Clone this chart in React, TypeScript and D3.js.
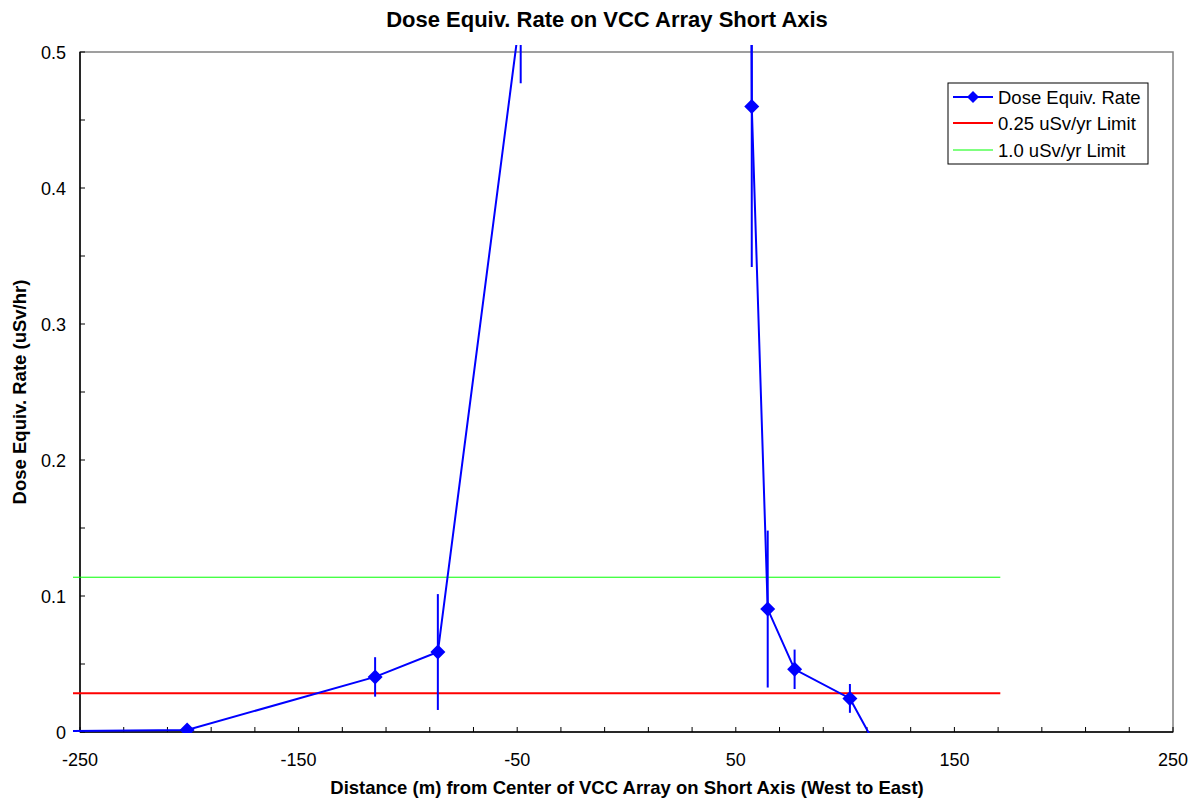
import React from 'react';
import * as d3 from 'd3';

// measured points (distance m, dose uSv/hr, error)
const distances = [-300, -201, -115, -86.3, -48.4, -30, 0, 30, 55, 57.3, 64.6, 76.9, 102.2, 115];
const doseRates = [0.0, 0.0015, 0.0405, 0.0588, 0.53, 1.8, 4.5, 3.2, 1.5, 0.46, 0.0904, 0.0461, 0.0247, -0.013];
const doseErrors = [0.0, 0.001, 0.0145, 0.0426, 0.053, 0.3, 0.6, 0.5, 0.3, 0.118, 0.0577, 0.0145, 0.0106, 0.01];

const limitX = [-300, 171];
const limit025 = 0.0285; // 0.25 uSv/yr
const limit100 = 0.1138; // 1.0 uSv/yr

const xTickLabels = [-250, -150, -50, 50, 150, 250];
const yTickLabels = [0, 0.1, 0.2, 0.3, 0.4, 0.5];

const W = 1190;
const H = 799;
const marginLeft = 80;
const marginRight = 17;
const marginTop = 52;
const marginBottom = 67;

const font = 'Arial, "Liberation Sans", sans-serif';

const App = () => {
  const x = d3.scaleLinear().domain([-250, 250]).range([marginLeft, W - marginRight]);
  const y = d3.scaleLinear().domain([0, 0.5]).range([H - marginBottom, marginTop]);

  const points = distances.map((d, i) => ({ x: d, y: doseRates[i], e: doseErrors[i] }));
  const line = d3.line<{ x: number; y: number }>().x(d => x(d.x)).y(d => y(d.y));

  const minorX = d3.range(-250, 251, 20);
  const minorY = d3.range(0, 0.5001, 0.05);

  const diamond = (cx: number, cy: number, r: number) =>
    `M${cx},${cy - r}L${cx + r},${cy}L${cx},${cy + r}L${cx - r},${cy}Z`;

  const [x0, x1] = x.range();
  const [y0, y1] = y.range();

  return (
    <svg width={W} height={H} style={{ position: 'absolute', left: 0, top: 0, background: '#fff' }}>
      <defs>
        <clipPath id="plotClip">
          <rect x={x0 - 7} y={y1 - 7} width={x1 - x0 + 14} height={y0 - y1 + 8} />
        </clipPath>
      </defs>

      <text x={607} y={27} textAnchor="middle" fontFamily={font} fontWeight="bold" fontSize={22}>
        Dose Equiv. Rate on VCC Array Short Axis
      </text>

      {/* plot frame */}
      <rect x={x0} y={y1} width={x1 - x0} height={y0 - y1} fill="none" stroke="#808080" strokeWidth={1.5} />
      <line x1={x0} x2={x0} y1={y1} y2={y0} stroke="#000" strokeWidth={1.5} />
      <line x1={x0} x2={x1} y1={y0} y2={y0} stroke="#000" strokeWidth={1.5} />

      {minorX.map(v => (
        <line key={'xt' + v} x1={x(v)} x2={x(v)} y1={y0} y2={y0 - 5} stroke="#000" />
      ))}
      {minorY.map(v => (
        <line key={'yt' + v} x1={x0} x2={x0 + 5} y1={y(v)} y2={y(v)} stroke="#000" />
      ))}

      {xTickLabels.map(v => (
        <text key={'xl' + v} x={x(v)} y={y0 + 34} textAnchor="middle" fontFamily={font} fontSize={18}>
          {v}
        </text>
      ))}
      {yTickLabels.map(v => (
        <text key={'yl' + v} x={x0 - 14} y={y(v) + 6.5} textAnchor="end" fontFamily={font} fontSize={18}>
          {v}
        </text>
      ))}

      <text x={627} y={794} textAnchor="middle" fontFamily={font} fontWeight="bold" fontSize={18.5}>
        Distance (m) from Center of VCC Array on Short Axis (West to East)
      </text>
      <text
        transform={`translate(26,${(y0 + y1) / 2}) rotate(-90)`}
        textAnchor="middle"
        fontFamily={font}
        fontWeight="bold"
        fontSize={18.5}
      >
        Dose Equiv. Rate (uSv/hr)
      </text>

      <g clipPath="url(#plotClip)">
        <line x1={x(limitX[0])} x2={x(limitX[1])} y1={y(limit100)} y2={y(limit100)} stroke="#00ff00" strokeWidth={1} />
        <line x1={x(limitX[0])} x2={x(limitX[1])} y1={y(limit025)} y2={y(limit025)} stroke="#ff0000" strokeWidth={2} />
        {points.map((p, i) => (
          <line
            key={'eb' + i}
            x1={x(p.x)}
            x2={x(p.x)}
            y1={y(p.y - p.e)}
            y2={y(p.y + p.e)}
            stroke="#0000ff"
            strokeWidth={2}
          />
        ))}
        <path d={line(points) ?? ''} fill="none" stroke="#0000ff" strokeWidth={2} />
        {points.map((p, i) => (
          <path key={'mk' + i} d={diamond(x(p.x), y(p.y), 7.5)} fill="#0000ff" />
        ))}
      </g>

      {/* legend */}
      <g>
        <rect x={948} y={83} width={200} height={81} fill="#fff" stroke="#000" strokeWidth={1} />
        <line x1={953} x2={993} y1={97} y2={97} stroke="#0000ff" strokeWidth={2} />
        <path d={diamond(973, 97, 6)} fill="#0000ff" />
        <text x={998} y={103.5} fontFamily={font} fontSize={18.5}>Dose Equiv. Rate</text>
        <line x1={953} x2={993} y1={123} y2={123} stroke="#ff0000" strokeWidth={2} />
        <text x={998} y={130} fontFamily={font} fontSize={18.5}>0.25 uSv/yr Limit</text>
        <line x1={953} x2={993} y1={150} y2={150} stroke="#00ff00" strokeWidth={1} />
        <text x={998} y={157} fontFamily={font} fontSize={18.5}>1.0 uSv/yr Limit</text>
      </g>
    </svg>
  );
};

export default App;
